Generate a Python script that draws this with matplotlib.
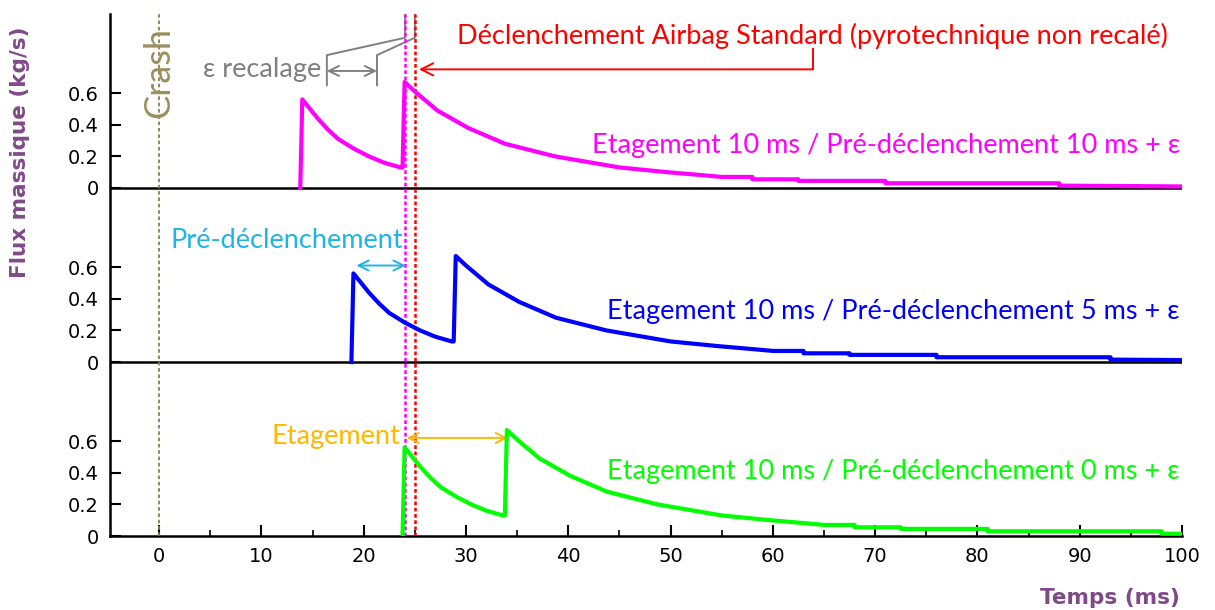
import numpy as np
import matplotlib
matplotlib.use('Agg')
import matplotlib.pyplot as plt

# profil de débit relevé (temps relatif au premier déclenchement, ms)
tau_ms = [-0.2, 0.0, 0.5, 1.5, 2.5, 3.5, 5.0, 6.5, 8.0, 9.6, 9.8, 10.0, 11.0, 13.2,
          16.2, 19.8, 24.7, 31.0, 35.7, 39.3, 41.0, 44.0, 44.0, 48.5, 48.5, 57.0,
          57.0, 74.0, 74.0, 86.0]
flux_kgs = [0.0, 0.56, 0.52, 0.44, 0.37, 0.31, 0.25, 0.20, 0.16, 0.13, 0.13, 0.67,
            0.61, 0.49, 0.38, 0.28, 0.20, 0.13, 0.10, 0.08, 0.07, 0.07, 0.055, 0.055,
            0.045, 0.045, 0.03, 0.03, 0.015, 0.01]

# instant du premier déclenchement pour chaque configuration
series_names = ['Etagement 10 ms / Pré-déclenchement 10 ms + ε',
                'Etagement 10 ms / Pré-déclenchement 5 ms + ε',
                'Etagement 10 ms / Pré-déclenchement 0 ms + ε']
series_start = [14.0, 19.0, 24.0]
series_colors = ['#FF00FF', '#0000FF', '#00FF00']
band_offset = [2.2, 1.1, 0.0]

t_crash = 0.0
t_magenta = 24.0
t_standard = 25.0

xticks = [0, 10, 20, 30, 40, 50, 60, 70, 80, 90, 100]
ytick_vals = [0, 0.2, 0.4, 0.6]
ytick_labels = ['0', '0.2', '0.4', '0.6']

fig = plt.figure(figsize=(12.15, 6.1), dpi=100)
ax = fig.add_axes([110/1215, 74/610, (1182-110)/1215, (536-14)/610])
ax.set_xlim(-4.8, 100)
ax.set_ylim(0, 3.30)

txt_font = ['Lato', 'DejaVu Sans']
fs = 19.5

# bandes
for off in band_offset[:2]:
    ax.axhline(off, color='black', lw=1.8, zorder=2)

for name, t0, col, off in zip(series_names, series_start, series_colors, band_offset):
    t = np.array(tau_ms) + t0
    ax.plot(t, np.array(flux_kgs) + off, color=col, lw=3.0, zorder=4)

# lignes verticales
ax.axvline(t_crash, color='#8B7D4B', ls=(0, (2, 1.5)), lw=1.3, zorder=3)
ax.axvline(t_magenta, color='#FF00FF', ls=(0, (1.5, 1)), lw=1.8, zorder=3)
ax.axvline(t_standard, color='#FF0000', ls=(0, (1.5, 1)), lw=1.8, zorder=3)

ax.text(t_crash, 2.93, 'Crash', rotation=90, ha='center', va='center',
        color='#9C8F5E', fontsize=26, family=txt_font)

# étiquettes des séries
label_y = [2.47, 1.42, 0.41]
for name, col, y in zip(series_names, series_colors, label_y):
    ax.text(99.8, y, name, ha='right', va='center', color=col, fontsize=fs,
            family=txt_font)

# epsilon recalage (gris)
gray = '#808080'
ax.plot([16.4, 16.4, 24.05, 24.05], [2.85, 3.04, 3.15, 3.30], color=gray, lw=1.4)
ax.plot([21.3, 21.3, 25.0, 25.0], [2.85, 3.04, 3.15, 3.30], color=gray, lw=1.4)
ax.annotate('', xy=(16.4, 2.94), xytext=(21.3, 2.94),
            arrowprops=dict(arrowstyle='<->', color=gray, lw=1.4, mutation_scale=18,
                            shrinkA=0, shrinkB=0))
ax.text(15.9, 2.95, 'ε recalage', ha='right', va='center', color=gray,
        fontsize=fs, family=txt_font)

# déclenchement standard (rouge)
ax.plot([63.9, 63.9], [3.08, 2.95], color='#FF0000', lw=1.4)
ax.annotate('', xy=(25.4, 2.95), xytext=(63.9, 2.95),
            arrowprops=dict(arrowstyle='->', color='#FF0000', lw=1.4, mutation_scale=22,
                            shrinkA=0, shrinkB=0))
ax.text(63.9, 3.16, 'Déclenchement Airbag Standard (pyrotechnique non recalé)',
        ha='center', va='center', color='#FF0000', fontsize=fs, family=txt_font)

# pré-déclenchement (cyan)
cyan = '#1EB4E6'
ax.annotate('', xy=(19.3, 1.71), xytext=(24.1, 1.71),
            arrowprops=dict(arrowstyle='<->', color=cyan, lw=1.4, mutation_scale=18,
                            shrinkA=0, shrinkB=0))
ax.text(23.9, 1.87, 'Pré-déclenchement', ha='right', va='center', color=cyan,
        fontsize=fs, family=txt_font)

# étagement (orange)
orange = '#FFB800'
ax.annotate('', xy=(24.2, 0.62), xytext=(34.1, 0.62),
            arrowprops=dict(arrowstyle='<->', color=orange, lw=1.4, mutation_scale=18,
                            shrinkA=0, shrinkB=0))
ax.text(23.6, 0.63, 'Etagement', ha='right', va='center', color=orange,
        fontsize=fs, family=txt_font)

# axes
yt = []
ylab = []
for off in band_offset[::-1]:
    yt += [off + v for v in ytick_vals]
    ylab += ytick_labels
ax.set_yticks(yt)
ax.set_yticklabels(ylab)
ax.set_xticks(xticks)
ax.set_xticks(np.arange(5, 100, 10), minor=True)
ax.tick_params(axis='both', which='major', direction='in', length=8, width=1.5,
               labelsize=14, pad=8)
ax.tick_params(axis='x', which='minor', direction='in', length=4, width=1.2)
ax.spines['top'].set_visible(False)
ax.spines['right'].set_visible(False)
ax.spines['left'].set_linewidth(1.8)
ax.spines['bottom'].set_linewidth(1.8)

purple = '#7F4A88'
fig.text(20/1215, 1 - 152/610, 'Flux massique (kg/s)', rotation=90, ha='center',
         va='center', color=purple, fontsize=15.5, fontweight='bold')
fig.text(1180/1215, 1 - 598/610, 'Temps (ms)', ha='right', va='center', color=purple,
         fontsize=15.5, fontweight='bold')

fig.savefig('out.png', dpi=100)
